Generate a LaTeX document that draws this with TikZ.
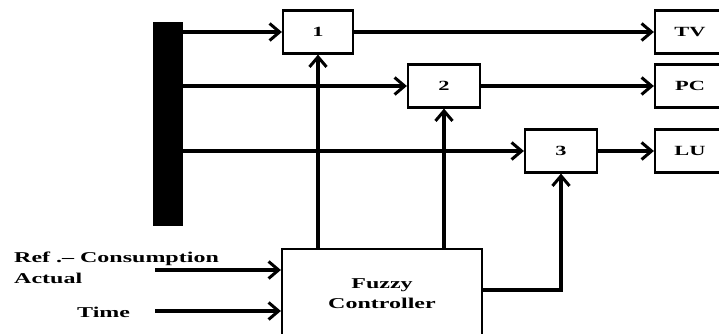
\documentclass[tikz,border=0pt]{standalone}
\usepackage{fontspec}
\setmainfont{Liberation Serif}
\newfontfamily\widefont[FakeStretch=1.6]{Liberation Serif}
\usetikzlibrary{positioning, arrows.meta, calc}

\begin{document}
\begin{tikzpicture}[
    x=1pt, y=-1pt,
    block/.style={draw, rectangle, line width=2.2pt, minimum width=70pt, minimum height=43pt, align=center, font=\widefont\bfseries\fontsize{14}{16}\selectfont},
    arrow/.style={-{Straight Barb[length=10pt, width=17pt, line width=3pt]}, line width=3.4pt},
    txt/.style={inner sep=0pt, anchor=base west, font=\widefont\bfseries\fontsize{15}{17}\selectfont},
]
\clip (0,0) rectangle (719,334);

% Supply bar
\node[fill=black, minimum width=30pt, minimum height=204pt, inner sep=0pt] (bus) at (168,124) {};

% Switches
\node[block] (sw1) at (318,32) {1};
\node[block, minimum width=72pt] (sw2) at (444,86) {2};
\node[block, minimum width=72pt] (sw3) at (561,151) {3};

% Loads
\node[block] (tv) at (690,32) {TV};
\node[block] (pc) at (690,86) {PC};
\node[block] (lu) at (690,151) {LU};

% Fuzzy controller
\node[block, minimum width=200pt, minimum height=90pt, font=\widefont\bfseries\fontsize{15}{20}\selectfont] (fuzzy) at (382,294) {Fuzzy\\Controller};

% Inputs
\node[txt] (ref) at (14,262) {Ref .– Consumption};
\node[txt] (act) at (14,283) {Actual};
\node[txt] (time) at (77,317) {Time};
\coordinate (in1) at (155,270);
\coordinate (in2) at (155,311);

% Connections
\draw[arrow] (bus.east |- sw1) -- (sw1);
\draw[arrow] (sw1) -- (tv);
\draw[arrow] (bus.east |- pc) -- (sw2);
\draw[arrow] (sw2) -- (pc);
\draw[arrow] (bus.east |- sw3) -- (sw3);
\draw[arrow] (sw3) -- (lu);

\draw[arrow] (fuzzy.north -| sw1) -- (sw1);
\draw[arrow] (fuzzy.north -| sw2) -- (sw2);
\draw[arrow] ([yshift=4pt]fuzzy.east) -| (sw3);

\draw[arrow] (in1) -- (fuzzy.west |- in1);
\draw[arrow] (in2) -- (fuzzy.west |- in2);

\end{tikzpicture}
\end{document}
